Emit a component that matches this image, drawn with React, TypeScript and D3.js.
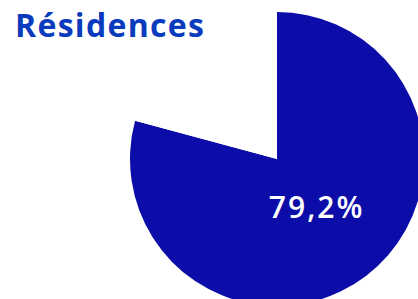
import { useEffect, useRef } from "react";
import * as d3 from "d3";

const title = "Résidences";
const categories = ["Résidences", "Autres"];
const values = [79.2, 20.8];
const colors = ["#0c0ca8", "#ffffff"];

export default function App() {
  const ref = useRef<SVGSVGElement>(null);
  const width = 418;
  const height = 299;

  useEffect(() => {
    const svg = d3.select(ref.current);
    svg.selectAll("*").remove();

    const cx = 277;
    const cy = 159;
    const radius = 147;

    const pie = d3
      .pie<number>()
      .sort(null)
      .value((d) => d);

    const arcs = pie(values);

    const arc = d3.arc<d3.PieArcDatum<number>>().innerRadius(0).outerRadius(radius);
    const labelArc = d3
      .arc<d3.PieArcDatum<number>>()
      .innerRadius(radius * 0.41)
      .outerRadius(radius * 0.41);

    const g = svg.append("g").attr("transform", `translate(${cx},${cy})`);

    g.selectAll("path")
      .data(arcs)
      .join("path")
      .attr("d", arc)
      .attr("fill", (d, i) => colors[i]);

    // only the main slice carries a label
    g.selectAll("text")
      .data(arcs.slice(0, 1))
      .join("text")
      .attr("transform", (d) => `translate(${labelArc.centroid(d)})`)
      .attr("text-anchor", "middle")
      .attr("dx", 3)
      .attr("dy", "0.36em")
      .attr("fill", "#ffffff")
      .attr("font-family", "'Open Sans', sans-serif")
      .attr("font-size", 30)
      .attr("font-weight", 600)
      .attr("letter-spacing", 2)
      .text((d) => `${String(d.data).replace(".", ",")}%`);

    svg
      .append("text")
      .attr("x", 15)
      .attr("y", 37)
      .attr("fill", "#0b3bbd")
      .attr("font-family", "'Open Sans', sans-serif")
      .attr("font-size", 32)
      .attr("font-weight", 700)
      .attr("letter-spacing", 1.3)
      .text(title);
  }, []);

  return (
    <svg
      ref={ref}
      width={width}
      height={height}
      style={{ position: "absolute", left: 0, top: 0 }}
    ></svg>
  );
}
